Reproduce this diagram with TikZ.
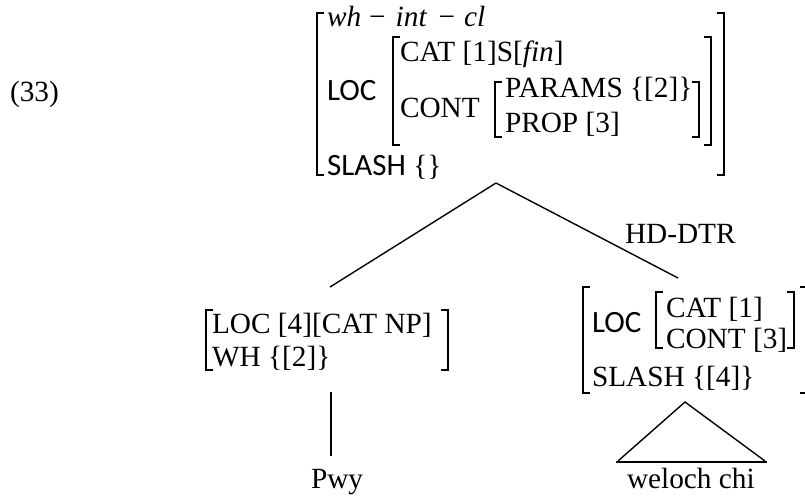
\documentclass[tikz,border=0pt]{standalone}
\usepackage{fontspec}
\usetikzlibrary{calc}
\setmainfont{Liberation Serif}
\newfontfamily\calib{Carlito}
\begin{document}
\begin{tikzpicture}[x=1pt,y=-1pt,
  lbl/.style={anchor=base west, inner sep=0pt, outer sep=0pt, font=\fontsize{29.3}{35}\selectfont},
  sans/.style={anchor=base west, inner sep=0pt, outer sep=0pt, font=\calib\fontsize{31}{36}\selectfont},
  brk/.style={line width=1.3pt, line join=miter},
  branch/.style={line width=1.4pt}]
\useasboundingbox (0,0) rectangle (805,495);

% square brackets: left/right opening at x, from top to bottom
\newcommand\avmopen[3]{\draw[brk] (#1+7,#2) -- (#1,#2) -- (#1,#3) -- (#1+7,#3);}
\newcommand\avmclose[3]{\draw[brk] (#1-7,#2) -- (#1,#2) -- (#1,#3) -- (#1-7,#3);}

% example number
\node[lbl] (exno) at (10,101) {(33)};

% mother AVM
\node[lbl] (type) at (327,27) {\itshape wh\hspace{8pt}{\upshape −}\hspace{10pt}int\hspace{12pt}{\upshape −}\hspace{9pt}cl};
\node[sans] (mloc) at (327,100) {LOC};
\node[lbl] (mcat) at (400,62) {CAT [1]S[\textit{fin}]};
\node[lbl] (mcont) at (400,117) {CONT};
\node[lbl] (mparams) at (505,97) {PARAMS \{[2]\}};
\node[lbl] (mprop) at (505,132) {PROP [3]};
\node[anchor=base west, inner sep=0pt] (mslash) at (327,175)
  {{\calib\fontsize{31}{36}\selectfont SLASH}\fontsize{29.3}{35}\selectfont\ \{\}};
\avmopen{317}{13}{175}
\avmclose{724}{13}{175}
\avmopen{393}{37}{145}
\avmclose{711}{37}{145}
\avmopen{495}{82}{137}
\avmclose{699}{82}{137}

% branching points
\coordinate (mother) at (496,183);
\coordinate (nonhd) at (330,287);
\coordinate (hd) at (678,278);
\draw[branch] (mother) -- (nonhd);
\draw[branch] (mother) -- (hd);
\node[lbl] (hdlabel) at (625,243) {HD-DTR};

% non-head daughter
\node[lbl] (nloc) at (212,333) {LOC [4][CAT NP]};
\node[lbl] (nwh) at (212,366) {WH \{[2]\}};
\avmopen{206}{310}{370}
\avmclose{448}{310}{370}
\coordinate (nbot) at (331,392);
\node[lbl] (pwy) at (311,488) {Pwy};
\coordinate (pwytop) at (331,456);
\draw[branch] (nbot) -- (pwytop);

% head daughter
\node[sans] (hloc) at (592,332) {LOC};
\node[lbl] (hcat) at (666,317) {CAT [1]};
\node[lbl] (hcont) at (666,348) {CONT [3]};
\node[lbl] (hslash) at (592,386) {SLASH \{[4]\}};
\avmopen{583}{287}{393}
\avmopen{656}{292}{348}
\avmclose{794}{292}{348}
\draw[brk] (800,287) -- (805,287);
\draw[brk] (800,393) -- (805,393);

% roof over the unanalysed string
\coordinate (apex) at (685,402);
\coordinate (baseL) at (618,461);
\coordinate (baseR) at (765,461);
\draw[branch] (baseL) -- (apex) -- (baseR);
\draw[line width=2pt] ($(baseL)+(-2,1)$) -- ($(baseR)+(2,1)$);
\node[lbl] (welo) at (627,488) {weloch chi};
\end{tikzpicture}
\end{document}
